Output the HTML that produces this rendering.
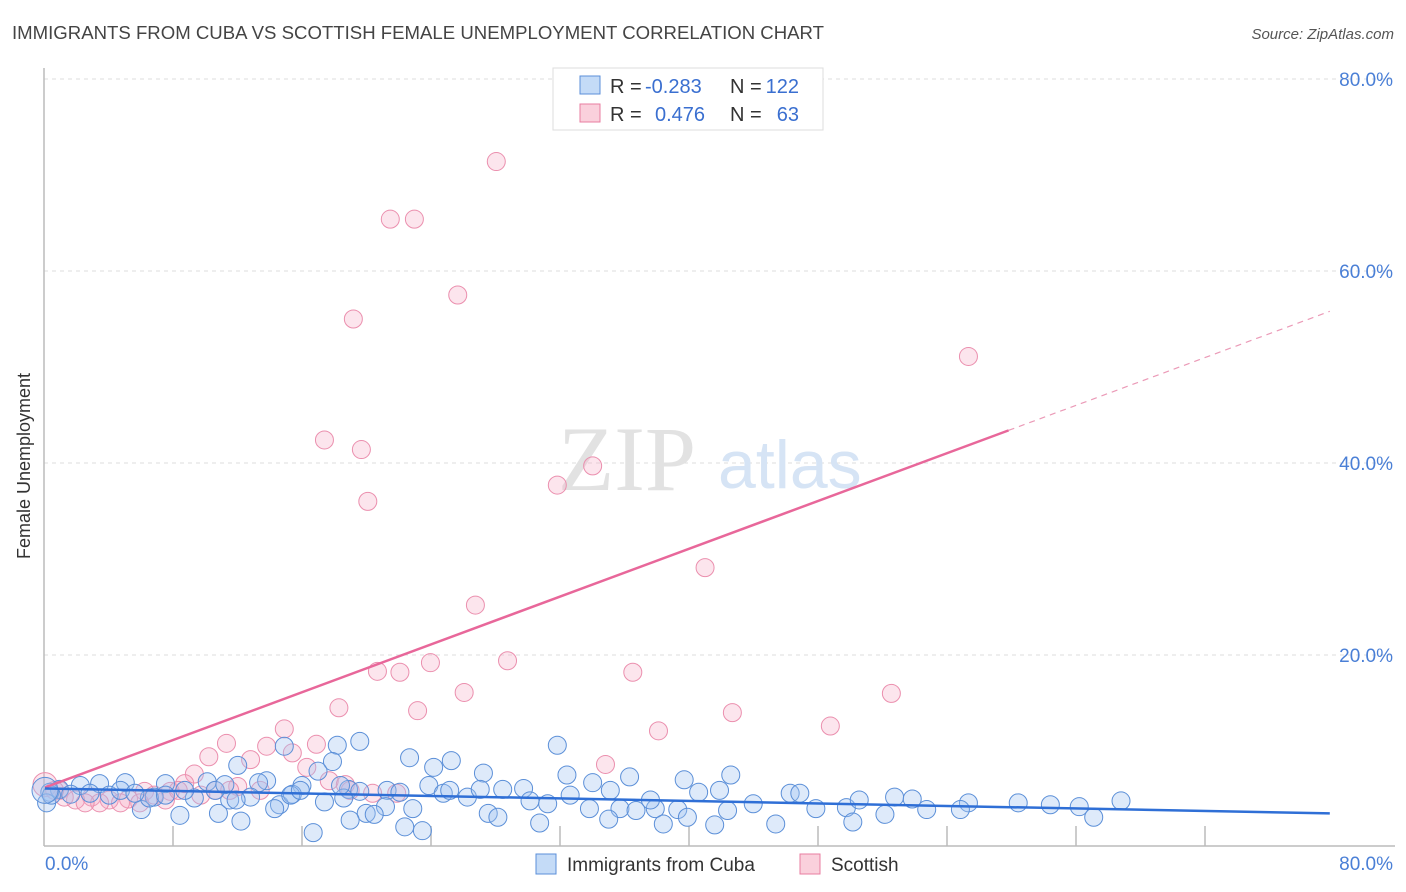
<!DOCTYPE html>
<html><head><meta charset="utf-8"><style>
body{margin:0;background:#fff;font-family:"Liberation Sans",sans-serif}
svg{display:block}
</style></head><body>
<svg id="chart" width="1406" height="892" xmlns="http://www.w3.org/2000/svg">
<text x="12" y="39" font-size="18" fill="#444" textLength="812" lengthAdjust="spacingAndGlyphs">IMMIGRANTS FROM CUBA VS SCOTTISH FEMALE UNEMPLOYMENT CORRELATION CHART</text>
<text x="1394" y="39" font-size="15" fill="#555" text-anchor="end" font-style="italic">Source: ZipAtlas.com</text>
<g id="grid"></g>
<g>
<text x="558" y="490" font-size="92" font-family="Liberation Serif,serif" fill="#e2e2e2">ZIP</text>
<text x="718" y="488" font-size="68" fill="#d6e4f5">atlas</text></g>
<line x1="44" y1="68" x2="44" y2="846" stroke="#bbb" stroke-width="1.5"/>
<line x1="44" y1="846" x2="1395" y2="846" stroke="#bbb" stroke-width="1.5"/>
<g id="ticks"></g>
<g id="pts"></g>
<g id="lines"></g>
<text x="20" y="456" font-size="18" fill="#333" text-anchor="middle" transform="rotate(-90 30 456)">Female Unemployment</text>
<text x="45" y="870" font-size="19" fill="#4a7fd6">0.0%</text>
<text x="1393" y="870" font-size="19" fill="#4a7fd6" text-anchor="end">80.0%</text>
<g>
<rect x="553" y="68" width="270" height="62" fill="#fff" stroke="#ddd"/>
<rect x="580" y="76" width="20" height="18" fill="#c4dbf7" stroke="#5b8fd8"/>
<rect x="580" y="104" width="20" height="18" fill="#fad0dc" stroke="#e87ea0"/>
<text x="610" y="93" font-size="20" fill="#333">R =</text>
<text x="645" y="93" font-size="20" fill="#3a6fd0">-0.283</text>
<text x="730" y="93" font-size="20" fill="#333">N =</text>
<text x="799" y="93" font-size="20" fill="#3a6fd0" text-anchor="end">122</text>
<text x="610" y="121" font-size="20" fill="#333">R =</text>
<text x="655" y="121" font-size="20" fill="#3a6fd0">0.476</text>
<text x="730" y="121" font-size="20" fill="#333">N =</text>
<text x="799" y="121" font-size="20" fill="#3a6fd0" text-anchor="end">63</text>
</g>
<g>
<rect x="536" y="854" width="20" height="20" fill="#c4dbf7" stroke="#5b8fd8"/>
<text x="567" y="871" font-size="19" fill="#333">Immigrants from Cuba</text>
<rect x="800" y="854" width="20" height="20" fill="#fad0dc" stroke="#e87ea0"/>
<text x="831" y="871" font-size="19" fill="#333">Scottish</text>
</g>
</svg>
<script>
const yTicks=[20,40,60,80];
const yTickLabels=["20.0%","40.0%","60.0%","80.0%"];
const pinkX=[28.1,21.5,23.0,25.7,19.2,57.5,17.4,19.7,34.1,31.9,20.1,41.1,26.8,28.8,24.0,20.7,22.1,36.6,26.1,52.7,23.2,18.3,42.8,48.9,38.2,14.9,16.9,11.3,13.8,34.9,10.2,12.8,15.4,16.3,9.3,17.7,18.7,8.7,12.0,21.9,10.6,6.2,7.8,2.9,4.0,5.2,0.9,0.0,1.9,3.4,5.9,7.5,9.7,6.8,4.7,2.5,1.2,0.6,8.3,20.4,11.5,13.4,19.0];
const pinkY=[71.4,65.4,65.4,57.5,55.0,51.1,42.4,41.4,39.7,37.7,36.0,29.1,25.2,19.4,19.2,18.3,18.2,18.2,16.1,16.0,14.2,14.5,14.0,12.6,12.1,12.3,10.7,10.8,10.5,8.6,9.4,9.1,9.8,8.3,7.6,6.9,6.5,6.6,6.3,5.6,5.9,5.8,5.8,5.2,4.9,5.0,5.9,6.5,4.9,4.6,4.6,4.9,5.4,5.4,4.6,4.6,5.2,5.9,5.9,5.6,5.9,5.9,5.9];
const blueX=[19.6,31.9,14.9,18.2,22.7,25.3,24.2,12.0,17.9,17.0,27.3,32.5,36.4,39.8,42.7,13.8,13.3,10.1,7.5,5.0,3.4,2.2,0.9,0.3,16.0,18.9,23.9,21.3,28.5,29.8,34.1,40.7,46.4,47.0,52.9,54.0,26.3,24.8,30.2,31.3,33.9,35.8,36.8,38.0,39.4,42.5,44.1,48.0,49.9,52.3,54.9,57.5,60.6,64.4,67.0,65.3,14.6,15.4,17.4,18.6,21.2,22.9,27.6,28.2,30.8,35.1,38.5,40.0,41.7,45.5,50.3,8.4,10.8,12.2,14.3,16.7,20.0,20.5,22.4,23.5,6.0,4.0,2.8,1.6,6.8,9.3,11.5,12.8,6.5,8.7,10.6,15.3,4.7,5.6,7.5,15.9,0.1,0.4,0.0,11.9,27.1,18.4,22.1,19.6,11.2,32.7,35.2,19.0,25.2,37.7,42.0,62.6,57.0,50.7];
const blueY=[11.0,10.6,10.5,10.6,9.3,9.0,8.3,8.5,8.9,7.9,7.7,7.5,7.3,7.0,7.5,6.9,6.7,6.8,6.6,6.7,6.6,6.4,6.0,5.7,6.4,6.0,6.4,5.9,6.0,6.1,6.7,5.7,5.6,5.6,5.2,5.0,5.2,5.6,4.8,4.5,4.0,4.0,3.8,4.0,3.9,3.8,4.5,4.0,4.1,3.4,3.9,4.6,4.6,4.2,4.8,3.1,4.4,5.5,4.7,5.1,4.2,4.0,3.5,3.1,2.5,2.9,2.4,3.1,2.3,2.4,2.6,3.3,3.5,2.7,4.0,1.5,3.5,3.4,2.1,1.7,3.9,5.4,5.6,5.5,5.2,5.1,4.9,5.2,5.1,5.9,5.9,5.4,5.9,5.6,5.4,5.9,4.6,5.4,5.9,4.9,6.0,6.4,5.7,5.8,6.5,5.4,5.9,2.8,5.9,4.9,5.9,4.4,3.9,4.9];
const pinkTrend=[6.2,55.8];
const blueTrend=[6.1,3.5];
const X=v=>45+v*16.06, Y=v=>847-v*9.6;
const NS="http://www.w3.org/2000/svg";
const mk=(t,a,p)=>{const e=document.createElementNS(NS,t);for(const k in a)e.setAttribute(k,a[k]);p.appendChild(e);return e;};
const grid=document.getElementById('grid');
yTicks.forEach((t,i)=>{
 const l=mk('line',{x1:44,x2:1395,y1:Y(t),y2:Y(t),stroke:'#ddd','stroke-dasharray':'4,4'},grid);
 
 
 const tx=mk('text',{x:1393,y:Y(t)+7,'font-size':19,fill:'#4a7fd6','text-anchor':'end'},grid);
 tx.textContent=yTickLabels[i];
 
 
});
const tk=document.getElementById('ticks');
for(let k=1;k<=9;k++){const l=mk('line',{x1:44+129*k,x2:44+129*k,y1:826,y2:846,stroke:'#bbb','stroke-width':1.5},tk);
 
 }
const pts=document.getElementById('pts');
pinkX.forEach((x,i)=>{const c=mk('circle',{cx:X(x),cy:Y(pinkY[i]),r:(x===0?12:9),fill:'rgba(245,170,195,0.3)',stroke:'#eb8fae','stroke-width':1},pts);
 
 });
blueX.forEach((x,i)=>{const c=mk('circle',{cx:X(x),cy:Y(blueY[i]),r:(x===0?13:9),fill:'rgba(160,195,240,0.35)',stroke:'#5b8fd8','stroke-width':1},pts);
 
 });
const ln=document.getElementById('lines');
const py=v=>pinkTrend[0]+(pinkTrend[1]-pinkTrend[0])*v/80;
let a=mk('line',{x1:X(0),y1:Y(py(0)),x2:X(60),y2:Y(py(60)),stroke:'#e8679a','stroke-width':2.5},ln);


a=mk('line',{x1:X(60),y1:Y(py(60)),x2:X(80),y2:Y(py(80)),stroke:'#eb9ab7','stroke-width':1.2,'stroke-dasharray':'6,5'},ln);


a=mk('line',{x1:X(0),y1:Y(blueTrend[0]),x2:X(80),y2:Y(blueTrend[1]),stroke:'#2f6fd6','stroke-width':2.5},ln);


</script>
</body></html>
